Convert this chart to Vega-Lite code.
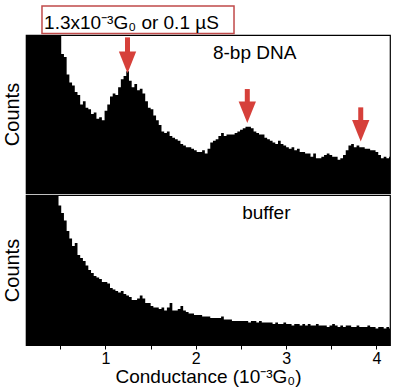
{
  "$schema": "https://vega.github.io/schema/vega-lite/v6.json",
  "padding": {"left": 1, "top": 4, "right": 0, "bottom": 0},
  "spacing": 0,
  "config": {
    "view": {"stroke": "black", "strokeWidth": 1.2},
    "font": "Liberation Sans",
    "axis": {"grid": false, "titleFont": "Liberation Sans", "labelFont": "Liberation Sans", "titleFontWeight": "normal", "titleColor": "black", "labelColor": "black", "tickColor": "black", "domainColor": "black"}
  },
  "datasets": {
    "top": [
      {"c":0.12,"v":130},{"c":0.15,"v":130},{"c":0.18,"v":130},{"c":0.21,"v":130},{"c":0.24,"v":130},{"c":0.27,"v":130},{"c":0.30,"v":130},{"c":0.33,"v":130},{"c":0.36,"v":130},{"c":0.39,"v":130},{"c":0.42,"v":130},{"c":0.45,"v":130},{"c":0.48,"v":130},
      {"c":0.51,"v":88},{"c":0.54,"v":86},{"c":0.57,"v":75},{"c":0.60,"v":70},{"c":0.63,"v":68},{"c":0.66,"v":64},{"c":0.69,"v":62},{"c":0.72,"v":56},{"c":0.75,"v":58},{"c":0.78,"v":54},{"c":0.81,"v":53},{"c":0.84,"v":50},{"c":0.87,"v":51},{"c":0.90,"v":47},{"c":0.93,"v":48},{"c":0.96,"v":46},{"c":0.99,"v":52},
      {"c":1.02,"v":56},{"c":1.05,"v":61},{"c":1.08,"v":63},{"c":1.11,"v":62},{"c":1.14,"v":67},{"c":1.17,"v":72},{"c":1.20,"v":74},{"c":1.23,"v":77},{"c":1.26,"v":71},{"c":1.29,"v":67},{"c":1.32,"v":69},{"c":1.35,"v":65},{"c":1.38,"v":66},{"c":1.41,"v":63},{"c":1.44,"v":58},{"c":1.47,"v":54},
      {"c":1.50,"v":53},{"c":1.53,"v":49},{"c":1.56,"v":46},{"c":1.59,"v":43},{"c":1.62,"v":39},{"c":1.65,"v":38},{"c":1.68,"v":39},{"c":1.71,"v":36},{"c":1.74,"v":35},{"c":1.77,"v":34},{"c":1.80,"v":33},{"c":1.83,"v":31},{"c":1.86,"v":30},{"c":1.89,"v":29},{"c":1.92,"v":29},{"c":1.95,"v":28},{"c":1.98,"v":27},
      {"c":2.01,"v":26},{"c":2.04,"v":26},{"c":2.07,"v":27},{"c":2.10,"v":25},{"c":2.13,"v":28},{"c":2.16,"v":32},{"c":2.19,"v":33},{"c":2.22,"v":34},{"c":2.25,"v":36},{"c":2.28,"v":38},{"c":2.31,"v":36},{"c":2.34,"v":37},{"c":2.37,"v":37},{"c":2.40,"v":37},{"c":2.43,"v":38},{"c":2.46,"v":39},{"c":2.49,"v":40},
      {"c":2.52,"v":41},{"c":2.55,"v":42},{"c":2.58,"v":42},{"c":2.61,"v":41},{"c":2.64,"v":39},{"c":2.67,"v":38},{"c":2.70,"v":37},{"c":2.73,"v":37},{"c":2.76,"v":35},{"c":2.79,"v":34},{"c":2.82,"v":33},{"c":2.85,"v":32},{"c":2.88,"v":31},{"c":2.91,"v":33},{"c":2.94,"v":31},{"c":2.97,"v":30},
      {"c":3.00,"v":29},{"c":3.03,"v":28},{"c":3.06,"v":29},{"c":3.09,"v":27},{"c":3.12,"v":28},{"c":3.15,"v":26},{"c":3.18,"v":26},{"c":3.21,"v":25},{"c":3.24,"v":25},{"c":3.27,"v":23},{"c":3.30,"v":25},{"c":3.33,"v":22},{"c":3.36,"v":22},{"c":3.39,"v":23},{"c":3.42,"v":24},{"c":3.45,"v":25},{"c":3.48,"v":24},
      {"c":3.51,"v":23},{"c":3.54,"v":23},{"c":3.57,"v":21},{"c":3.60,"v":22},{"c":3.63,"v":24},{"c":3.66,"v":27},{"c":3.69,"v":30},{"c":3.72,"v":31},{"c":3.75,"v":29},{"c":3.78,"v":30},{"c":3.81,"v":29},{"c":3.84,"v":29},{"c":3.87,"v":28},{"c":3.90,"v":28},{"c":3.93,"v":27},{"c":3.96,"v":27},{"c":3.99,"v":26},
      {"c":4.02,"v":24},{"c":4.05,"v":22},{"c":4.08,"v":23},{"c":4.11,"v":22},{"c":4.14,"v":23},{"c":4.15,"v":23}
    ],
    "bottom": [
      {"c":0.12,"v":130},{"c":0.15,"v":130},{"c":0.18,"v":130},{"c":0.21,"v":130},{"c":0.24,"v":130},{"c":0.27,"v":130},{"c":0.30,"v":130},{"c":0.33,"v":130},{"c":0.36,"v":130},{"c":0.39,"v":130},{"c":0.42,"v":130},{"c":0.45,"v":130},
      {"c":0.48,"v":93},{"c":0.51,"v":88},{"c":0.54,"v":83},{"c":0.57,"v":76},{"c":0.60,"v":71},{"c":0.63,"v":66},{"c":0.66,"v":68},{"c":0.69,"v":60},{"c":0.72,"v":58},{"c":0.75,"v":56},{"c":0.78,"v":53},{"c":0.81,"v":50},{"c":0.84,"v":48},{"c":0.87,"v":46},{"c":0.90,"v":45},{"c":0.93,"v":44},{"c":0.96,"v":42},{"c":0.99,"v":42},
      {"c":1.02,"v":41},{"c":1.05,"v":38},{"c":1.08,"v":37},{"c":1.11,"v":36},{"c":1.14,"v":35},{"c":1.17,"v":36},{"c":1.20,"v":34},{"c":1.23,"v":33},{"c":1.26,"v":32},{"c":1.29,"v":30},{"c":1.32,"v":30},{"c":1.35,"v":31},{"c":1.38,"v":33},{"c":1.41,"v":31},{"c":1.44,"v":28},{"c":1.47,"v":28},
      {"c":1.50,"v":26},{"c":1.53,"v":25},{"c":1.56,"v":25},{"c":1.59,"v":24},{"c":1.62,"v":25},{"c":1.65,"v":23},{"c":1.68,"v":25},{"c":1.71,"v":28},{"c":1.74,"v":23},{"c":1.77,"v":23},{"c":1.80,"v":24},{"c":1.83,"v":26},{"c":1.86,"v":23},{"c":1.89,"v":22},{"c":1.92,"v":21},{"c":1.95,"v":21},{"c":1.98,"v":20},
      {"c":2.01,"v":20},{"c":2.04,"v":20},{"c":2.07,"v":19},{"c":2.10,"v":19},{"c":2.13,"v":19},{"c":2.16,"v":18},{"c":2.19,"v":18},{"c":2.22,"v":18},{"c":2.25,"v":18},{"c":2.28,"v":19},{"c":2.31,"v":17},{"c":2.34,"v":17},{"c":2.37,"v":17},{"c":2.40,"v":16},{"c":2.43,"v":16},{"c":2.46,"v":16},{"c":2.49,"v":16},
      {"c":2.52,"v":16},{"c":2.55,"v":16},{"c":2.58,"v":15},{"c":2.61,"v":16},{"c":2.64,"v":16},{"c":2.67,"v":15},{"c":2.70,"v":16},{"c":2.73,"v":15},{"c":2.76,"v":15},{"c":2.79,"v":15},{"c":2.82,"v":15},{"c":2.85,"v":14},{"c":2.88,"v":15},{"c":2.91,"v":14},{"c":2.94,"v":14},{"c":2.97,"v":15},
      {"c":3.00,"v":14},{"c":3.03,"v":14},{"c":3.06,"v":13},{"c":3.09,"v":14},{"c":3.12,"v":14},{"c":3.15,"v":13},{"c":3.18,"v":14},{"c":3.21,"v":13},{"c":3.24,"v":14},{"c":3.27,"v":13},{"c":3.30,"v":13},{"c":3.33,"v":14},{"c":3.36,"v":13},{"c":3.39,"v":13},{"c":3.42,"v":13},{"c":3.45,"v":12},{"c":3.48,"v":13},
      {"c":3.51,"v":14},{"c":3.54,"v":13},{"c":3.57,"v":12},{"c":3.60,"v":13},{"c":3.63,"v":12},{"c":3.66,"v":13},{"c":3.69,"v":13},{"c":3.72,"v":12},{"c":3.75,"v":12},{"c":3.78,"v":13},{"c":3.81,"v":12},{"c":3.84,"v":12},{"c":3.87,"v":12},{"c":3.90,"v":13},{"c":3.93,"v":12},{"c":3.96,"v":12},{"c":3.99,"v":11},
      {"c":4.02,"v":12},{"c":4.05,"v":12},{"c":4.08,"v":11},{"c":4.11,"v":12},{"c":4.14,"v":11},{"c":4.15,"v":11}
    ],
    "arrows": [
      {"c":1.244,"top":98.5,"base":86,"head":82.7},
      {"c":2.570,"top":65.8,"base":55,"head":51.1},
      {"c":3.826,"top":54.2,"base":43.5,"head":39.4}
    ]
  },
  "vconcat": [
    {
      "width": 364,
      "height": 158,
      "layer": [
        {
          "data": {"name": "top"},
          "mark": {"type": "area", "interpolate": "step-after", "color": "black", "clip": true},
          "encoding": {
            "x": {"field": "c", "type": "quantitative", "scale": {"domain": [0.12, 4.15], "nice": false, "zero": false}, "axis": null},
            "y": {"field": "v", "type": "quantitative", "scale": {"domain": [0, 100], "nice": false}, "axis": {"title": "Counts", "titleFontSize": 20, "labels": false, "ticks": false, "domain": false, "titlePadding": 4}}
          }
        },
        {
          "data": {"name": "arrows"},
          "mark": {"type": "rule", "color": "#d6403a", "strokeWidth": 5},
          "encoding": {
            "x": {"field": "c", "type": "quantitative"},
            "y": {"field": "top", "type": "quantitative"},
            "y2": {"field": "base"}
          }
        },
        {
          "data": {"name": "arrows"},
          "mark": {"type": "point", "shape": "M-1,-1.25L1,-1.25L0,1.25Z", "filled": true, "color": "#d6403a", "opacity": 1, "size": 300},
          "encoding": {
            "x": {"field": "c", "type": "quantitative"},
            "y": {"field": "head", "type": "quantitative"}
          }
        },
        {
          "data": {"values": [{"c": 2.19, "v": 88.6, "t": "8-bp DNA"}]},
          "mark": {"type": "text", "align": "left", "baseline": "middle", "fontSize": 19, "color": "black"},
          "encoding": {
            "x": {"field": "c", "type": "quantitative"},
            "y": {"field": "v", "type": "quantitative"},
            "text": {"field": "t"}
          }
        },
        {
          "data": {"values": [{"x1": 0.297, "x2": 2.423, "y1": 101, "y2": 118.4}]},
          "mark": {"type": "rect", "fill": null, "stroke": "#c04a4a", "strokeWidth": 1.5, "clip": false},
          "encoding": {
            "x": {"field": "x1", "type": "quantitative"},
            "x2": {"field": "x2"},
            "y": {"field": "y1", "type": "quantitative"},
            "y2": {"field": "y2"}
          }
        },
        {
          "data": {"values": [{"c": 0.32, "v": 103.5, "t": "1.3x10⁻³G₀ or 0.1 µS"}]},
          "mark": {"type": "text", "align": "left", "baseline": "alphabetic", "fontSize": 19, "color": "black", "clip": false},
          "encoding": {
            "x": {"field": "c", "type": "quantitative"},
            "y": {"field": "v", "type": "quantitative"},
            "text": {"field": "t"}
          }
        }
      ]
    },
    {
      "width": 364,
      "height": 150,
      "layer": [
        {
          "data": {"name": "bottom"},
          "mark": {"type": "area", "interpolate": "step-after", "color": "black", "clip": true},
          "encoding": {
            "x": {"field": "c", "type": "quantitative", "scale": {"domain": [0.12, 4.15], "nice": false, "zero": false},
                  "axis": {"title": "Conductance (10⁻³G₀)", "titleFontSize": 19, "labelFontSize": 16, "values": [0.5, 1, 1.5, 2, 2.5, 3, 3.5, 4], "labelExpr": "datum.value % 1 === 0 ? format(datum.value, 'd') : ''", "tickSize": 4, "labelPadding": 1, "titlePadding": 1, "domain": false, "labelFlush": false}},
            "y": {"field": "v", "type": "quantitative", "scale": {"domain": [0, 100], "nice": false}, "axis": {"title": "Counts", "titleFontSize": 20, "labels": false, "ticks": false, "domain": false, "titlePadding": 4}}
          }
        },
        {
          "data": {"values": [{"c": 2.514, "v": 88, "t": "buffer"}]},
          "mark": {"type": "text", "align": "left", "baseline": "middle", "fontSize": 19, "color": "black"},
          "encoding": {
            "x": {"field": "c", "type": "quantitative"},
            "y": {"field": "v", "type": "quantitative"},
            "text": {"field": "t"}
          }
        }
      ]
    }
  ]
}
